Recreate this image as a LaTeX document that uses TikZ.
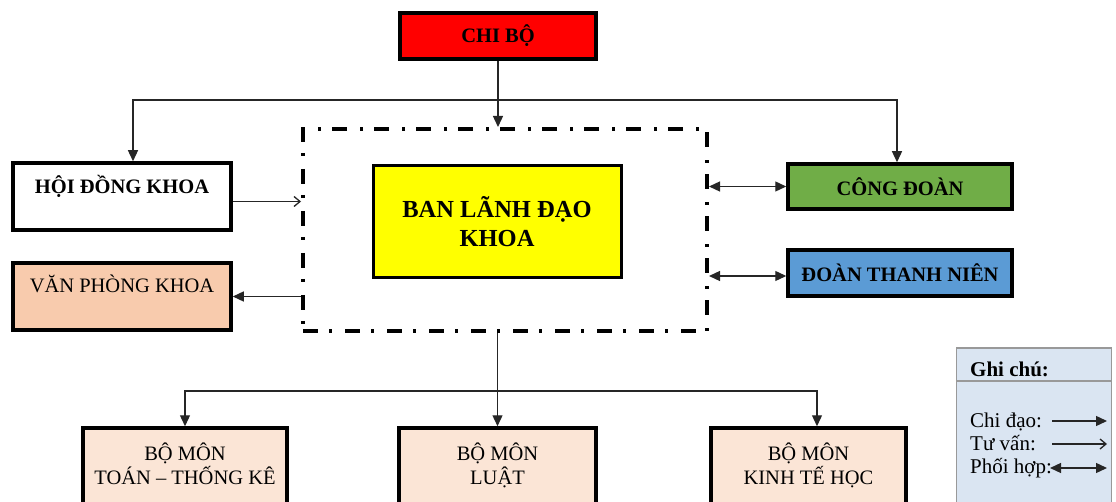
\documentclass[tikz,border=0pt]{standalone}
\usepackage{fontspec}
\setmainfont{Liberation Serif}
\usetikzlibrary{arrows.meta}
\definecolor{cred}{HTML}{FF0000}
\definecolor{cyellow}{HTML}{FFFF00}
\definecolor{cgreen}{HTML}{70AD47}
\definecolor{cblue}{HTML}{5B9BD5}
\definecolor{cpeach}{HTML}{F8CBAD}
\definecolor{clight}{HTML}{FBE5D6}
\definecolor{clegend}{HTML}{DAE5F2}
\definecolor{cline}{HTML}{262626}
\begin{document}
\begin{tikzpicture}[x=1pt,y=-1pt,
  box/.style={draw=black, line width=3.5pt, inner sep=0pt, align=center,
    font=\fontsize{20.5}{24}\selectfont},
  boldbox/.style={box, font=\fontsize{20.5}{24}\selectfont\bfseries},
  chidao/.style={draw=cline, line width=1.3pt, -{Triangle[length=11pt,width=10pt]}},
  tuvan/.style={draw=cline, line width=1.3pt, -{Straight Barb[length=6pt,width=10pt]}},
  phoihop/.style={draw=cline, line width=1.3pt, {Triangle[length=11pt,width=10pt]}-{Triangle[length=11pt,width=10pt]}},
  legtext/.style={anchor=base west, inner sep=0pt, font=\fontsize{21}{24}\selectfont}]
\useasboundingbox (0,0) rectangle (1116,502);

% top
\node[boldbox, fill=cred, minimum width=196, minimum height=46] (chibo) at (498,36) {CHI BỘ};
\node[draw=black, line width=4pt, dash pattern=on 15pt off 11pt on 3pt off 13pt,
      minimum width=404, minimum height=202] (lead) at (505,230) {};
\node[box, line width=3pt, fill=cyellow, minimum width=248, minimum height=112,
      font=\fontsize{24.5}{29}\selectfont\bfseries] (bld) at (497,222) {BAN LÃNH ĐẠO\\KHOA};

% left
\node[boldbox, fill=white, minimum width=218, text height=31, text depth=36] (hdk) at (122,196.5) {HỘI ĐỒNG KHOA};
\node[box, fill=cpeach, minimum width=218, text height=30, text depth=37] (vpk) at (122,296.5) {VĂN PHÒNG KHOA};

% right
\node[boldbox, fill=cgreen, minimum width=224, minimum height=45] (cd) at (900,186.5) {CÔNG ĐOÀN};
\node[boldbox, fill=cblue, minimum width=224, minimum height=46] (dtn) at (900,273) {ĐOÀN THANH NIÊN};

% bottom (boxes run past the lower edge of the page)
\node[box, fill=clight, minimum width=204, minimum height=100] (toan) at (185,478) {BỘ MÔN\\TOÁN – THỐNG KÊ\\[4pt]};
\node[box, fill=clight, minimum width=197, minimum height=100] (luat) at (497.5,478) {BỘ MÔN\\LUẬT\\[4pt]};
\node[box, fill=clight, minimum width=195, minimum height=100] (kth) at (808.5,478) {BỘ MÔN\\KINH TẾ HỌC\\[4pt]};

% connectors top
\coordinate (j1) at (chibo.south |- 0,100);
\draw[chidao] (chibo.south) -- (chibo.south |- lead.north);
\draw[chidao] (j1) -| ([xshift=11pt]hdk.north);
\draw[chidao] (j1) -| ([xshift=-3pt]cd.north);

\draw[tuvan] ([yshift=-5pt]hdk.east) -- ([yshift=-5pt]lead.west |- hdk.east);
\draw[chidao] (lead.west |- vpk.east) -- (vpk.east);
\draw[phoihop] (lead.east |- cd.west) -- (cd.west);
\draw[phoihop] ([yshift=-3pt]lead.east |- dtn.west) -- ([yshift=-3pt]dtn.west);

% connectors bottom
\coordinate (j2) at (luat.north |- 0,391);
\draw[chidao] (lead.south -| luat.north) -- (luat.north);
\draw[chidao] (j2) -| (toan.north);
\draw[chidao] (j2) -| ([xshift=8.5pt]kth.north);

% legend
\node[draw=gray!80, line width=1.3pt, fill=clegend, minimum width=155, minimum height=156] (leg) at (1034,426) {};
\draw[draw=gray!80, line width=1.3pt] (leg.west |- 0,381) -- (leg.east |- 0,381);
\node[legtext, font=\fontsize{21}{24}\selectfont\bfseries] (legt) at (970,377) {Ghi chú:};
\node[legtext] (l1) at (970,427) {Chi đạo:};
\node[legtext] (l2) at (970,450) {Tư vấn:};
\node[legtext] (l3) at (970,473) {Phối hợp:};
\coordinate (a1s) at (1052,421); \coordinate (a1e) at (1107,421);
\coordinate (a2s) at (1052,444); \coordinate (a2e) at (1107,444);
\coordinate (a3s) at (1050,468); \coordinate (a3e) at (1107,468);
\draw[chidao] (a1s) -- (a1e);
\draw[tuvan] (a2s) -- (a2e);
\draw[phoihop] (a3s) -- (a3e);
\end{tikzpicture}
\end{document}
